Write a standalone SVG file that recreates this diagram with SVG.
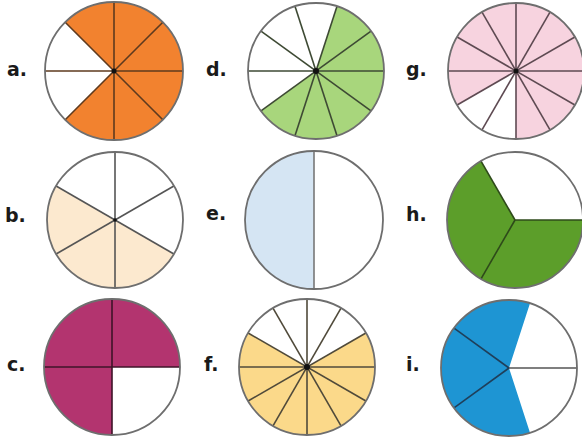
<svg xmlns="http://www.w3.org/2000/svg" width="582" height="437" viewBox="0 0 582 437">
<style>
.bg{fill:#ffffff}
.lbl{font-family:"DejaVu Sans","Liberation Sans",sans-serif;font-weight:bold;font-size:19px;fill:#1a1a1a}
.rim{fill:none;stroke:#6e6e6e;stroke-width:1.8}
.ln{fill:none;stroke-width:1.6;stroke-linecap:butt}
.dot{fill:#111}
</style>
<rect class="bg" x="0" y="0" width="582" height="437"/>

<g id="a">
<text class="lbl" x="7" y="76">a.</text>
<path d="M114,71 L65.21,22.21 A69,69 0 1 1 65.21,119.79 Z" fill="#f2822f"/>
<g class="ln" stroke="#5e3a1e">
<line x1="45" y1="71" x2="183" y2="71"/>
<line x1="114" y1="2" x2="114" y2="140"/>
<line x1="162.79" y1="22.21" x2="65.21" y2="119.79"/>
<line x1="65.21" y1="22.21" x2="162.79" y2="119.79"/>
</g>
<circle class="rim" cx="114" cy="71" r="69" stroke="#7a6a60"/>
<circle class="dot" cx="114" cy="71" r="2.5"/>
</g>

<g id="d">
<text class="lbl" x="206" y="76">d.</text>
<path d="M316,71 L337.01,6.33 A68,68 0 1 1 260.99,110.97 Z" fill="#a8d67c"/>
<g class="ln" stroke="#3e4a34">
<line x1="384" y1="71" x2="248" y2="71"/>
<line x1="371.01" y1="31.03" x2="260.99" y2="110.97"/>
<line x1="337.01" y1="6.33" x2="294.99" y2="135.67"/>
<line x1="294.99" y1="6.33" x2="337.01" y2="135.67"/>
<line x1="260.99" y1="31.03" x2="371.01" y2="110.97"/>
</g>
<circle class="rim" cx="316" cy="71" r="68" stroke="#5a6050"/>
<circle class="dot" cx="316" cy="71" r="3"/>
</g>

<g id="g">
<text class="lbl" x="406" y="76">g.</text>
<path d="M516,71 L457.11,105 A68,68 0 1 1 516,139 Z" fill="#f7d3df"/>
<g class="ln" stroke="#5e4a52">
<line x1="584" y1="71" x2="448" y2="71"/>
<line x1="574.89" y1="37" x2="457.11" y2="105"/>
<line x1="550" y1="12.11" x2="482" y2="129.89"/>
<line x1="516" y1="3" x2="516" y2="139"/>
<line x1="482" y1="12.11" x2="550" y2="129.89"/>
<line x1="457.11" y1="37" x2="574.89" y2="105"/>
</g>
<circle class="rim" cx="516" cy="71" r="68" stroke="#7a6a70"/>
<circle class="dot" cx="516" cy="71" r="2.5"/>
</g>

<g id="b">
<text class="lbl" x="5" y="222">b.</text>
<path d="M115,220 L56.11,186 A68,68 0 0 0 173.89,254 Z" fill="#fce9cf"/>
<g class="ln" stroke="#555">
<line x1="115" y1="152" x2="115" y2="288"/>
<line x1="173.89" y1="186" x2="56.11" y2="254"/>
<line x1="56.11" y1="186" x2="173.89" y2="254"/>
</g>
<circle class="rim" cx="115" cy="220" r="68"/>
<circle class="dot" cx="115" cy="220" r="1.8"/>
</g>

<g id="e">
<text class="lbl" x="206" y="220">e.</text>
<path d="M314,151 A69,69 0 0 0 314,289 Z" fill="#d5e5f3"/>
<line class="ln" x1="314" y1="151" x2="314" y2="289" stroke="#777" stroke-width="2.2"/>
<circle class="rim" cx="314" cy="220" r="69" stroke="#7a7a7a"/>
</g>

<g id="h">
<text class="lbl" x="406" y="221">h.</text>
<path d="M515,220 L481,161.11 A68,68 0 1 0 583,220 Z" fill="#5c9e2a"/>
<g class="ln" stroke="#2e4a1a">
<line x1="515" y1="220" x2="583" y2="220"/>
<line x1="515" y1="220" x2="481" y2="161.11"/>
<line x1="515" y1="220" x2="481" y2="278.89"/>
</g>
<circle class="rim" cx="515" cy="220" r="68" stroke="#6a6a6a"/>
</g>

<g id="c">
<text class="lbl" x="7" y="371">c.</text>
<path d="M112,367 L180,367 A68,68 0 1 0 112,435 Z" fill="#b3346f"/>
<g class="ln" stroke="#3e1428">
<line x1="44" y1="367" x2="180" y2="367"/>
<line x1="112" y1="299" x2="112" y2="435"/>
</g>
<circle class="rim" cx="112" cy="367" r="68" stroke="#4a3040"/>
</g>

<g id="f">
<text class="lbl" x="204" y="371">f.</text>
<path d="M307,367 L248.11,333 A68,68 0 1 0 365.89,333 Z" fill="#fbd98a"/>
<g class="ln" stroke="#504a3a">
<line x1="375" y1="367" x2="239" y2="367"/>
<line x1="365.89" y1="333" x2="248.11" y2="401"/>
<line x1="341" y1="308.11" x2="273" y2="425.89"/>
<line x1="307" y1="299" x2="307" y2="435"/>
<line x1="273" y1="308.11" x2="341" y2="425.89"/>
<line x1="248.11" y1="333" x2="365.89" y2="401"/>
</g>
<circle class="rim" cx="307" cy="367" r="68" stroke="#6a6a6a"/>
<circle class="dot" cx="307" cy="367" r="3"/>
</g>

<g id="i">
<text class="lbl" x="406" y="371">i.</text>
<path d="M509,368 L530.01,303.33 A68,68 0 1 0 530.01,432.67 Z" fill="#1e95d3"/>
<g class="ln" stroke="#1f3f5a">
<line x1="509" y1="368" x2="577" y2="368" stroke="#555"/>
<line x1="509" y1="368" x2="453.99" y2="328.03"/>
<line x1="509" y1="368" x2="453.99" y2="407.97"/>
</g>
<circle class="rim" cx="509" cy="368" r="68" stroke="#5a6470"/>
</g>
</svg>
